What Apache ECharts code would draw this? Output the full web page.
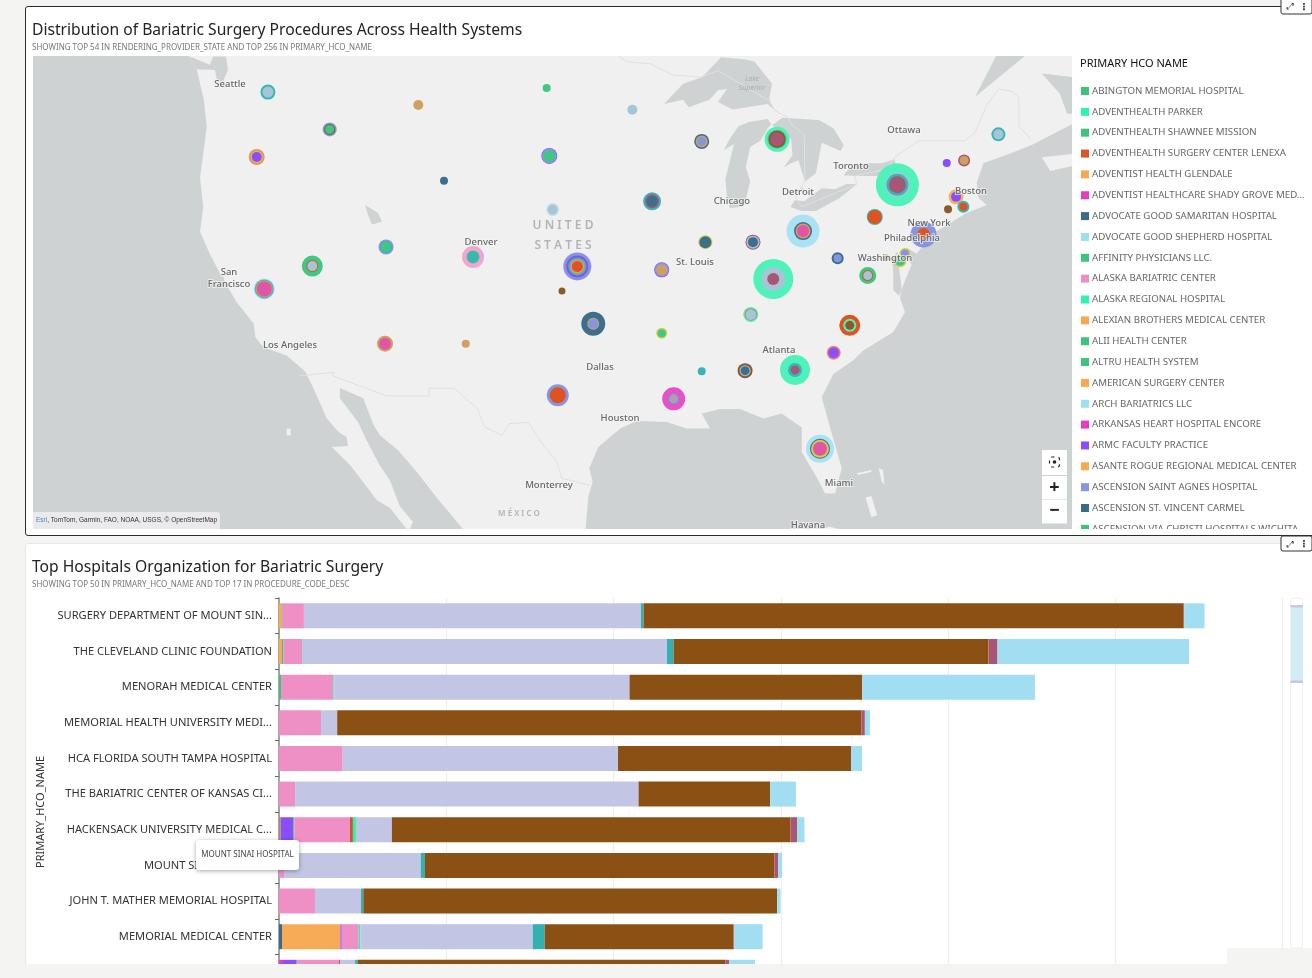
<!DOCTYPE html>
<html><head><meta charset="utf-8">
<script src="https://cdn.jsdelivr.net/npm/echarts@6/dist/echarts.min.js"></script>
<style>
html,body{margin:0;padding:0;width:1312px;height:978px;overflow:hidden;background:#f4f4f2}
.p{position:absolute;background:#fff;box-sizing:border-box}
#chart{position:absolute;left:0;top:0;width:1312px;height:1010px}
</style></head><body>
<div class="p" style="left:25px;top:6px;width:1300px;height:530px;border:1px solid #2b2b2b;border-radius:3px"></div>
<div class="p" style="left:25px;top:543px;width:1300px;height:450px;border:1px solid #e8e8e8;border-radius:3px"></div>
<div id="chart"></div>
<script>
const FONT = '"Noto Sans", sans-serif';
// ---------- map marks ----------
const stateCodes = ['WA','ID','OR','CA','NV','UT','MT','ND','MN','SD','WI','WY','NE','IA','CO','KS','MO','IL','KS2','AZ','NM','OK','AR','TX','LA','MS','MI','NY','PA','OH','IN','KY','WV','VA','VT','NH','ME','MA','RI','CT','NJ','DE','MD','DC','TN','NC','SC','GA','AL','FL'];
const stateLon = [-119.23,-115.0,-120.0,-119.48,-116.19,-111.14,-108.93,-100.14,-94.27,-99.96,-89.52,-107.17,-99.73,-92.92,-105.18,-98.04,-92.26,-89.27,-99.09,-111.21,-105.68,-96.95,-92.26,-99.38,-91.44,-89.52,-84.36,-76.12,-77.67,-82.58,-86.01,-84.62,-80.21,-78.15,-72.74,-71.55,-69.2,-72.1,-71.6,-72.65,-74.33,-75.6,-75.94,-76.92,-86.16,-79.38,-80.48,-83.13,-86.55,-81.42];
const stateLat = [47.31,45.55,44.21,37.38,38.61,39.63,46.71,47.5,46.48,44.26,44.97,43.03,41.57,41.99,39.1,38.59,38.41,39.88,37.27,34.34,34.34,35.46,34.93,31.37,31.16,32.76,45.07,42.83,41.19,40.46,39.88,37.92,39.03,38.1,43.91,44.04,45.31,42.22,41.72,41.59,40.28,39.28,38.9,39.05,35.97,35.37,33.82,32.84,32.8,28.19];
// procedure volume rings of each state, outermost first
const ringValues = [[15,11],[14,11,9],[16,12,10],[21,19,17,15],[21,12,10],[15,12,10],[10],[8],[10],[16,15,12],[15,12,9],[8],[13,10],[18,14,11],[22,13,11],[28,22,18,14,11],[15,14,11],[14,12],[7],[16,12],[8],[24,12,10],[11,8],[22,16],[23,11,9],[8],[25,19,17,14],[43,25,22,17],[16,14],[33,18,15,12],[15,13,10],[40,24,12],[12,8],[17,11,9],[8],[12,9],[14,10],[15,10],[12,8],[8],[26,13],[11,8],[13,10],[7],[15,12,11],[21,13,9],[14,12,10],[30,14,9],[15,11,9],[28,20,18,14]];
const ringHues = [['teal','steel'],['peri','brown','green'],['tan','amber','violet'],['sky','teal','tan','rose'],['green','orange','steel'],['peri','teal','green'],['tan'],['green'],['steel'],['violet','peri','green'],['slate','tan','peri'],['slate'],['pale','steel'],['teal','maroon','slate'],['pink','green','teal'],['peri','violet','green','salmon','orange'],['violet','peri','tan'],['yellow','slate'],['brown'],['tan','rose'],['tan'],['slate','tan','peri'],['yellow','green'],['peri','orange'],['magenta','teal','mauve'],['teal'],['mint','green','brown','maroon'],['mint','steel','teal','maroon'],['teal','orange'],['sky','slate','tan','rose'],['maroon','steel','slate'],['mint','steel','maroon'],['slate','peri'],['green','orange','steel'],['violet'],['maroon','tan'],['teal','steel'],['amber','violet'],['teal','orange'],['brown'],['peri','orange'],['yellow','peri'],['yellow','green'],['tan'],['mint','orange','steel'],['orange','mint','brown'],['tan','magenta','violet'],['mint','teal','maroon'],['brown','steel','slate'],['sky','slate','yellow','rose']];
const hues = {teal:'#38b5b5',steel:'#a6c6d8',peri:'#8795e0',brown:'#8b5a2b',green:'#3ec884',tan:'#d0a060',amber:'#f3b25c',violet:'#8a4dff',sky:'#a8e2f4',rose:'#e055a5',orange:'#e0521f',slate:'#3d6f8c',pale:'#c6e0ec',maroon:'#a85674',pink:'#f2a6cf',salmon:'#ec8d8d',yellow:'#d5cc45',magenta:'#e84fc8',mauve:'#be94bd',mint:'#4ff2b8'};
// ---------- legend ----------
const legendNames = ['ABINGTON MEMORIAL HOSPITAL','ADVENTHEALTH PARKER','ADVENTHEALTH SHAWNEE MISSION','ADVENTHEALTH SURGERY CENTER LENEXA','ADVENTIST HEALTH GLENDALE','ADVENTIST HEALTHCARE SHADY GROVE MED...','ADVOCATE GOOD SAMARITAN HOSPITAL','ADVOCATE GOOD SHEPHERD HOSPITAL','AFFINITY PHYSICIANS LLC.','ALASKA BARIATRIC CENTER','ALASKA REGIONAL HOSPITAL','ALEXIAN BROTHERS MEDICAL CENTER','ALII HEALTH CENTER','ALTRU HEALTH SYSTEM','AMERICAN SURGERY CENTER','ARCH BARIATRICS LLC','ARKANSAS HEART HOSPITAL ENCORE','ARMC FACULTY PRACTICE','ASANTE ROGUE REGIONAL MEDICAL CENTER','ASCENSION SAINT AGNES HOSPITAL','ASCENSION ST. VINCENT CARMEL','ASCENSION VIA CHRISTI HOSPITALS WICHITA'];
const legendColors = ['#3cc47c','#2ef2b0','#3cc47c','#e0522a','#f8a850','#e83cc0','#3a6c88','#a0dff0','#3cc47c','#ee8ec6','#2ef2b0','#f8a850','#3cc47c','#3cc47c','#f8a850','#a0dff0','#e83cc0','#8a4dff','#f8a850','#8795e0','#3a6c88','#3cc47c'];
// ---------- stacked bars ----------
const hospitals = ['SURGERY DEPARTMENT OF MOUNT SIN...','THE CLEVELAND CLINIC FOUNDATION','MENORAH MEDICAL CENTER','MEMORIAL HEALTH UNIVERSITY MEDI...','HCA FLORIDA SOUTH TAMPA HOSPITAL','THE BARIATRIC CENTER OF KANSAS CI...','HACKENSACK UNIVERSITY MEDICAL C...','MOUNT SINAI HOSPITAL','JOHN T. MATHER MEMORIAL HOSPITAL','MEMORIAL MEDICAL CENTER',''];
const procSlate   = [0,0,0,0,0,0,0,0,0,1.8,0];
const procMagenta = [0,0,0,0,0,0,0,0,0,0,2.4];
const procTan     = [0,0,0,0,0,0,1.0,0,0,0,0];
const procAmber   = [1.8,1.8,0,0,0,0,0,0,0,34.9,0];
const procViolet  = [0,0,0,0,0,0,7.5,0,0,0.8,7.8];
const procGreen   = [0.4,0.8,1.2,0,0,0,0.6,0,0,0,0.6];
const procPink    = [12.7,11.2,31.3,25.1,38.1,9.6,33.3,3,21.5,10.2,25.1];
const procOrange  = [0,0,0,0,0,0,1.8,0,0,0,0.8];
const procMint    = [0,0.4,0.6,0,0,0,1.8,0,0,1,0];
const procLav     = [201.5,217.8,176.5,9.7,164.6,205.4,21.5,81.7,27.5,103,8.8];
const procTeal    = [1.6,3.9,0,0,0,0,0,2.6,1.4,7.2,1.6];
const procBrown   = [322.9,188.3,139,313.5,139.3,78.6,238.3,209,247.4,112.8,219.9];
const procMaroon  = [0.3,5.4,0,2,0,0,3.9,2.1,0,0.5,2.1];
const procSky     = [12.2,114.5,103.4,3,6.6,15.5,4.5,2.4,2.1,17,15.5];
const procSeries = [['Code A',procSlate,'#3a6c88'],['Code B',procMagenta,'#e83cc0'],['Code C',procTan,'#b08a5a'],['Code D',procAmber,'#f7ab56'],['Code E',procViolet,'#8a4dff'],['Code F',procGreen,'#3cc47c'],['Code G',procPink,'#ee90c6'],['Code H',procOrange,'#d0562a'],['Code I',procMint,'#2ef2b0'],['Code J',procLav,'#c2c5e4'],['Code K',procTeal,'#35b0b0'],['Code L',procBrown,'#8b5013'],['Code M',procMaroon,'#a85674'],['Code N',procSky,'#a2def2']];
// ---------- base map outlines (lon, lat) ----------
const T=48.96,B=23.24,L=-135.32,R=-64.16;
const landRing = [[-124.68,T],[-124.11,48.36],[-123.61,46.92],[-123.42,45.66],[-123.88,43.18],[-123.66,41.72],[-123.88,40.42],[-123.2,39.24],[-122.3,37.9],[-121.37,36.65],[-120.2,35.46],[-120.1,34.72],[-119.55,34.14],[-117.95,33.66],[-116.69,32.76],[-116.12,31.8],[-115.2,30.0],[-114.4,29.2],[-113.84,28.9],[-113.75,28.35],[-114.86,28.3],[-113.6,27.2],[-111.78,25.05],[-110.87,24.55],[-109.73,B],[-109.5,B],[-109.3,23.7],[-110.19,24.65],[-110.87,26.26],[-111.56,27.17],[-112.47,28.69],[-113.06,29.8],[-114.3,31.2],[-114.3,31.8],[-112.7,31.2],[-112.03,29.67],[-111.56,29.0],[-110.32,28.1],[-108.95,26.69],[-107.65,25.17],[-105.87,B],[-97.47,B],[-97.29,25.25],[-96.99,26.16],[-97.22,27.0],[-96.6,28.3],[-95.1,29.4],[-93.97,29.86],[-91.92,29.8],[-90.55,29.4],[-88.95,29.4],[-89.52,30.3],[-88.27,30.56],[-86.9,30.56],[-85.3,30.0],[-84.04,30.3],[-82.67,29.47],[-82.67,28.0],[-81.64,26.44],[-81.07,25.45],[-80.39,25.45],[-79.93,27.0],[-80.73,29.47],[-81.3,31.26],[-80.5,32.6],[-79.14,33.4],[-78.45,33.95],[-76.4,35.0],[-75.6,36.1],[-75.94,36.9],[-75.83,37.38],[-75.25,38.5],[-74.8,39.28],[-73.66,40.34],[-71.38,41.4],[-70.0,41.8],[-70.57,42.17],[-70.68,42.95],[-70.23,43.9],[-68.4,44.38],[-66.92,44.8],[R,45.79],[R,T]];
const waterRings = {
  Superior:[[-92.1,46.75],[-90.8,46.95],[-90.4,46.6],[-89,46.95],[-88.4,47.4],[-87.8,47.45],[-88.4,46.85],[-87.4,46.5],[-85.0,46.75],[-84.6,46.5],[-84.9,47.0],[-84.7,47.7],[-85.9,48.7],[-86.5,48.8],[-88.2,48.9],[-89.5,48.0],[-90.8,47.7],[-92.1,46.75]],
  Michigan:[[-87.6,41.65],[-86.9,41.7],[-86.5,42.1],[-86.2,43.0],[-86.5,43.7],[-86.2,44.7],[-85.5,45.0],[-85.0,45.6],[-84.75,45.8],[-85.0,46.05],[-86.3,45.9],[-87.0,45.7],[-87.6,45.1],[-88.0,44.55],[-87.3,44.85],[-87.5,44.3],[-87.9,43.1],[-87.8,42.3]],
  Huron:[[-84.7,45.75],[-83.4,45.1],[-83.3,44.3],[-83.9,43.7],[-83.4,43.9],[-82.9,44.05],[-82.45,43.0],[-81.7,43.4],[-81.3,44.9],[-80.0,44.5],[-79.8,44.8],[-80.5,45.6],[-81.5,46.0],[-84,46.1]],
  Erie:[[-83.45,41.7],[-82.7,41.5],[-81.7,41.5],[-80.1,42.15],[-78.9,42.85],[-79.6,42.87],[-80.4,42.6],[-81.3,42.65],[-82.5,42.0],[-83.15,42.05]],
  Ontario:[[-79.8,43.3],[-79.0,43.27],[-77.5,43.27],[-76.2,43.5],[-76.3,44.1],[-77.2,43.9],[-78.5,43.9],[-79.4,43.65]],
  StClair:[[-82.9,42.35],[-82.5,42.65],[-82.8,42.65]],
  SaltLake:[[-112.58,41.8],[-111.69,41.4],[-111.42,40.95],[-112.1,40.8],[-112.38,41.3]],
  Puget:[[-124.11,48.36],[-122.86,48.33],[-122.7,47.8],[-122.3,47.8],[-121.97,48.33],[-122.1,48.94],[-122.99,48.94],[-123.2,48.57],[-124.68,T]],
  Chesapeake:[[-76.0,37.0],[-76.4,37.3],[-76.4,38.3],[-76.5,39.0],[-76.1,39.4],[-76.0,38.5],[-75.9,37.9],[-75.83,37.38]],
  Delaware:[[-74.8,39.28],[-75.5,39.6],[-75.45,39.0],[-75.05,38.6]],
  StLawrence:[[-70.8,47.08],[-67.4,T],[-69.36,T]],
  Gulf:[[-66.23,48.17],[R,48.01],[R,46.3],[-64.5,46.3],[-65,47.24]],
  CaliforniaPatch:[[-122.5,37.8],[-122.1,37.5],[-122.3,38.1]]
};
const extraLand = {
  NovaScotia:[[-66.23,44.2],[-65.65,43.52],[R,43.77],[R,44.36]],
  GrandBahama:[[-78.9,26.7],[-77.9,26.9],[-77.9,26.78],[-78.8,26.6]],
  Abaco:[[-77.4,27.0],[-77.1,26.9],[-77.0,26.0],[-77.2,26.2]],
  Andros:[[-78.3,25.2],[-77.9,25.3],[-77.5,24.1],[-77.9,24.0]],
  Cuba:[[-81.2,B],[-80.8,23.4],[-80.2,B]],
  Guadalupe:[[-117.95,29.4],[-117.67,29.4],[-117.67,29.0],[-117.95,29.0]]
};
const borderPaths = [
 [[-117.1,32.5],[-114.7,32.7],[-114.8,32.5],[-111.1,31.33],[-108.2,31.33],[-108.2,31.78],[-106.5,31.78],[-104.9,30.6],[-104.4,29.5],[-103.2,29.0],[-102.7,29.7],[-101.4,29.77],[-100.3,28.3],[-99.5,27.5],[-99.1,26.4],[-97.15,25.95]],
 [[-76.3,44.2],[-74.7,45],[-71.5,45],[-70.8,45.4],[-70.3,46.2],[-70,46.7],[-69.2,47.45],[-68.3,47.35],[-67.8,47.07],[-67.8,45.7],[-67.0,45.1]],
 [[-95.2,48.95],[-94.6,48.7],[-93,48.6],[-91.5,48.1],[-89.6,48.0],[-88.4,48.3],[-84.9,46.9],[-84.5,46.45],[-83.6,46.1],[-83.4,45.8],[-82.5,45.3],[-82.45,43.0],[-83.1,42.2],[-82.7,41.7],[-78.9,42.85],[-79.05,43.27],[-76.8,43.63],[-76.3,44.2]]
];
const cityLabels = [['Seattle',230,84],['San',229,272],['Francisco',229,284],['Los Angeles',290,345],['Denver',481,242],['St. Louis',695,262.5],['Chicago',732,201],['Detroit',798,192],['Toronto',851,166],['Ottawa',904,130],['Boston',971,191.5],['New York',929,223],['Philadelphia',912,238],['Washington',885,258],['Dallas',600,367],['Houston',620,418],['Atlanta',779,350],['Miami',839,483],['Monterrey',549,485],['Havana',808,525]];

// ---------- registration ----------
const poly=(name,ring)=>({type:'Feature',properties:{name},geometry:{type:'Polygon',coordinates:[ring.concat([ring[0]])]}});
const features=[poly('Sea',[[L,T],[R,T],[R,B],[L,B]]),poly('Land',landRing)];
Object.keys(extraLand).forEach(k=>features.push(poly(k,extraLand[k])));
Object.keys(waterRings).forEach(k=>features.push(poly(k,waterRings[k])));
echarts.registerMap('basemap',{type:'FeatureCollection',features});
const SEA='#ced2d3',LAND='#f0f0f0';
const regions=[{name:'Sea',itemStyle:{areaColor:SEA}},{name:'Land',itemStyle:{areaColor:LAND}}]
 .concat(Object.keys(extraLand).map(name=>({name,itemStyle:{areaColor:LAND}})))
 .concat(Object.keys(waterRings).map(name=>({name,itemStyle:{areaColor:SEA}})));
const rad=Math.PI/180;
const projection={
  project:p=>[p[0]*rad,-Math.log(Math.tan(Math.PI/4+p[1]*rad/2))],
  unproject:p=>[p[0]/rad,(2*Math.atan(Math.exp(-p[1]))-Math.PI/2)/rad]
};
// rings: one scatter layer per depth, outermost drawn first
const ringSeries=[];
for(let d=0;d<5;d++){
  const data=[];
  stateCodes.forEach((c,i)=>{ if(ringValues[i][d]!=null) data.push({name:c,value:[stateLon[i],stateLat[i],ringValues[i][d]],itemStyle:{color:hues[ringHues[i][d]],opacity:1}}); });
  ringSeries.push({type:'scatter',coordinateSystem:'geo',geoIndex:0,silent:true,symbol:'circle',symbolSize:v=>v[2],data,z:3,animation:false,itemStyle:{opacity:1}});
}
const legendSeries=legendNames.map((n,i)=>({type:'scatter',coordinateSystem:'geo',geoIndex:0,name:n,data:[],itemStyle:{color:legendColors[i],opacity:1}}));
const barSeries=procSeries.map(s=>({type:'bar',name:s[0],stack:'p',xAxisIndex:0,yAxisIndex:0,data:s[1],barWidth:25,itemStyle:{color:s[2]},silent:true,animation:false}));

// ---------- overlay graphics ----------
const txt=(text,x,y,o)=>({type:'text',x,y,silent:true,style:Object.assign({text,fontFamily:FONT,align:'center',verticalAlign:'middle'},o)});
const gfx=[];
cityLabels.forEach(c=>gfx.push(txt(c[0],c[1],c[2],{fontSize:9.5,fontWeight:500,fill:'#666',stroke:'rgba(245,245,245,.7)',lineWidth:2})));
gfx.push(txt('U N I T E D',563,226,{fontSize:12,fontWeight:600,fill:'#b4b4b4'}));
gfx.push(txt('S T A T E S',563,246,{fontSize:12,fontWeight:600,fill:'#b4b4b4'}));
gfx.push(txt('M É X I C O',519,514,{fontSize:8,fontWeight:600,fill:'#b4b4b4'}));
gfx.push(txt('Lake',752,79,{fontSize:7,fontStyle:'italic',fill:'#a9aeb0'}));
gfx.push(txt('Superior',752,88,{fontSize:7,fontStyle:'italic',fill:'#a9aeb0'}));
// attribution
gfx.push({type:'rect',silent:true,shape:{x:33,y:512,width:187,height:17,r:[0,3,0,0]},style:{fill:'rgba(235,235,237,.95)'}});
gfx.push({type:'text',x:36,y:520.5,silent:true,style:{text:'{a|Esri}, TomTom, Garmin, FAO, NOAA, USGS, © OpenStreetMap',fontFamily:'"Liberation Sans",sans-serif',fontSize:6.5,fill:'#333',verticalAlign:'middle',rich:{a:{fill:'#4a7fc0',fontSize:6.5}}}});
// zoom controls
[[450,25],[476,23.5],[500,23.5]].forEach(b=>gfx.push({type:'rect',silent:true,shape:{x:1042,y:b[0],width:25,height:b[1]},style:{fill:'#fff'}}));
gfx.push({type:'rect',silent:true,shape:{x:1049.5,y:457,width:10,height:10,r:2},style:{fill:'none',stroke:'#222',lineWidth:1.2,lineDash:[3,4]}});
gfx.push({type:'circle',silent:true,shape:{cx:1054.5,cy:462,r:1.8},style:{fill:'#222'}});
gfx.push(txt('+',1054.5,487.5,{fontSize:18,fontWeight:700,fill:'#222'}));
gfx.push(txt('−',1054.5,511,{fontSize:18,fontWeight:700,fill:'#222'}));
// legend clip and page strips
gfx.push({type:'rect',silent:true,shape:{x:1074,y:529,width:238,height:6},style:{fill:'#fff'}});
gfx.push({type:'rect',silent:true,shape:{x:1074,y:535,width:238,height:1},style:{fill:'#2b2b2b'}});
gfx.push({type:'rect',silent:true,shape:{x:0,y:964,width:1312,height:50},style:{fill:'#f4f4f2'}});
gfx.push({type:'rect',silent:true,shape:{x:1227,y:948,width:85,height:16},style:{fill:'#f4f4f2'}});
// vertical scroller
gfx.push({type:'rect',silent:true,shape:{x:1290.5,y:598,width:12,height:350,r:3},style:{fill:'#fff',stroke:'#eeeeee',lineWidth:1}});
gfx.push({type:'rect',silent:true,shape:{x:1291,y:606,width:12,height:76},style:{fill:'#d2edf6'}});
gfx.push({type:'rect',silent:true,shape:{x:1290.5,y:605,width:12.5,height:2.5,r:1},style:{fill:'#c5c8e4'}});
gfx.push({type:'rect',silent:true,shape:{x:1290.5,y:680.5,width:12.5,height:2.5,r:1},style:{fill:'#c5c8e4'}});
// axis title
gfx.push({type:'text',x:41,y:812,rotation:Math.PI/2,silent:true,style:{text:'PRIMARY_HCO_NAME',fontFamily:FONT,fontSize:11,fill:'#333',align:'center',verticalAlign:'middle'}});
// tooltip
gfx.push({type:'rect',silent:true,shape:{x:196,y:840,width:103,height:30,r:3},style:{fill:'#fff',shadowBlur:4,shadowColor:'rgba(0,0,0,.35)',shadowOffsetY:1}});
gfx.push(txt('MOUNT SINAI HOSPITAL',247.5,855,{fontSize:8,fill:'#444'}));
// corner menus
[[1281,-2,16],[1281,536,15]].forEach(m=>{
  gfx.push({type:'rect',silent:true,shape:{x:m[0],y:m[1],width:31,height:m[2],r:2},style:{fill:'#fff',stroke:'#333',lineWidth:1}});
  gfx.push(txt('⤢',m[0]+9,m[1]+m[2]/2+1,{fontFamily:'"DejaVu Sans"',fontSize:9,fill:'#333'}));
  gfx.push(txt('⋮',m[0]+23,m[1]+m[2]/2+1,{fontFamily:'"DejaVu Sans"',fontSize:10,fontWeight:700,fill:'#333'}));
});
gfx.forEach(e=>{e.z=100;e.zlevel=5;});

const chart=echarts.init(document.getElementById('chart'),null,{renderer:'canvas'});
chart.setOption({
  animation:false,
  backgroundColor:'transparent',
  textStyle:{fontFamily:FONT},
  title:[
    {text:'Distribution of Bariatric Surgery Procedures Across Health Systems',subtext:'SHOWING TOP 54 IN RENDERING_PROVIDER_STATE AND TOP 256 IN PRIMARY_HCO_NAME',left:32,top:23,padding:0,itemGap:5,textStyle:{fontFamily:FONT,fontSize:15.65,fontWeight:'normal',color:'#222'},subtextStyle:{fontFamily:FONT,fontSize:8,color:'#777'}},
    {text:'Top Hospitals Organization for Bariatric Surgery',subtext:'SHOWING TOP 50 IN PRIMARY_HCO_NAME AND TOP 17 IN PROCEDURE_CODE_DESC',left:32,top:560,padding:0,itemGap:5,textStyle:{fontFamily:FONT,fontSize:15.65,fontWeight:'normal',color:'#222'},subtextStyle:{fontFamily:FONT,fontSize:8,color:'#777'}},
    {text:'PRIMARY HCO NAME',left:1080,top:58,padding:0,textStyle:{fontFamily:FONT,fontSize:11,fontWeight:'normal',color:'#111'}}
  ],
  legend:{data:legendNames,orient:'vertical',left:1081,top:85,height:700,padding:0,itemWidth:8,itemHeight:8,itemGap:8.85,icon:'rect',selectedMode:false,align:'left',itemStyle:{opacity:1},textStyle:{fontFamily:FONT,fontSize:9.7,color:'#666',lineHeight:12,padding:[0,0,0,-2]}},
  geo:{map:'basemap',projection,boundingCoords:[[L,T],[R,B]],left:33,top:56,width:1039,height:473,roam:false,silent:true,regions,itemStyle:{areaColor:LAND,borderWidth:0},emphasis:{disabled:true},select:{disabled:true},label:{show:false}},
  grid:{left:279,top:598,width:1003.5,height:392.15,containLabel:false},
  xAxis:{type:'value',min:0,max:600,interval:100,axisLabel:{show:false},axisLine:{show:false},axisTick:{show:false},splitLine:{show:true,lineStyle:{color:'#eeeeee',width:1.2}}},
  yAxis:{type:'category',inverse:true,data:hospitals,axisLabel:{fontFamily:FONT,fontSize:11.1,color:'#333',margin:7,interval:0},axisLine:{show:true,lineStyle:{color:'#888',width:1.5}},axisTick:{show:true,length:4,lineStyle:{color:'#666',width:1}}},
  graphic:{elements:gfx},
  tooltip:{show:false},
  series:[{type:'lines',coordinateSystem:'geo',geoIndex:0,polyline:true,silent:true,z:2,lineStyle:{color:'#dfe1e1',width:1,opacity:1},data:borderPaths.map(coords=>({coords}))}]
    .concat(ringSeries,legendSeries,barSeries)
});
</script></body></html>
